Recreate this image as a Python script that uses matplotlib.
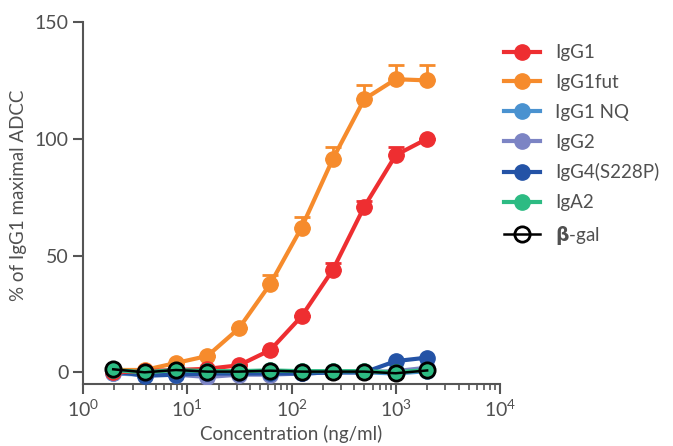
import matplotlib
matplotlib.use("Agg")
import matplotlib.pyplot as plt
import numpy as np

plt.rcParams['font.family'] = ['Lato', 'DejaVu Sans']
plt.rcParams['mathtext.fontset'] = 'custom'
plt.rcParams['mathtext.rm'] = 'Lato'
plt.rcParams['mathtext.bf'] = 'DejaVu Sans:bold'

conc = [1.95, 3.9, 7.8, 15.6, 31.25, 62.5, 125, 250, 500, 1000, 2000]

igg1 = [0.0, 0.5, 1.0, 1.5, 3.0, 9.5, 24.0, 44.0, 71.0, 93.0, 100.0]
igg1_err = [0, 0, 0, 0, 0, 0, 0, 3.0, 2.5, 3.5, 0]
igg1fut = [1.0, 1.0, 4.0, 7.0, 18.8, 37.8, 62.0, 91.5, 117.0, 125.5, 125.0]
igg1fut_err = [0, 0, 0, 0, 0, 4.0, 4.5, 5.0, 6.0, 6.0, 6.5]
igg1nq = [-0.5, -1.0, -0.5, -1.0, -0.5, -0.5, -0.5, 0.0, 0.0, -0.5, 0.5]
igg2 = [-0.5, -0.5, -1.0, -2.0, -1.0, -1.0, -0.5, 0.0, 0.0, 0.5, 2.0]
igg4 = [0.5, -1.5, -1.0, -0.5, -0.5, -0.5, -0.5, 0.0, 0.0, 4.8, 6.3]
iga2 = [1.0, 0.0, 1.0, 0.5, 0.5, 0.8, 0.5, 0.5, 0.5, 0.0, 1.0]
bgal = [1.3, 0.0, 1.0, 0.3, 0.3, 0.7, 0.3, 0.3, 0.3, -0.4, 0.8]

labels = ['IgG1', 'IgG1fut', 'IgG1 NQ', 'IgG2', 'IgG4(S228P)', 'IgA2', r'$\mathbf{\beta}$-gal']
colors = ['#EE2E31', '#F68B2C', '#4A92D0', '#7C84C4', '#2453A6', '#2DBB83', '#000000']
tick_vals = [0, 50, 100, 150]

fig = plt.figure(figsize=(6.73, 4.46), dpi=100)
ax = fig.add_axes([83/673, 1-384/446, (500-83)/673, (384-22)/446])

series = [igg1, igg1fut, igg1nq, igg2, igg4, iga2]
errs = [igg1_err, igg1fut_err, None, None, None, None]
order = [2, 3, 4, 1, 0, 5]
hmap = {}
for i in order:
    y = series[i]
    if errs[i] is not None:
        e = np.array(errs[i])
        ax.errorbar(conc, y, yerr=[np.zeros_like(e), e], fmt='none', ecolor=colors[i],
                    elinewidth=2, capsize=6, capthick=2, zorder=2)
    h, = ax.plot(conc, y, '-o', color=colors[i], lw=3, ms=11, zorder=3,
                 label=labels[i])
    hmap[i] = h
h, = ax.plot(conc, bgal, '-o', color='black', lw=1.8, ms=11, mfc='none', mew=2,
             zorder=4, label=labels[6])
hmap[6] = h

txt = '#505050'
ax.set_xscale('log')
ax.set_xlim(1, 1e4)
ax.set_ylim(-5, 150)
ax.set_yticks(tick_vals)
ax.spines['top'].set_visible(False)
ax.spines['right'].set_visible(False)
for s in ['left', 'bottom']:
    ax.spines[s].set_color('#555555')
    ax.spines[s].set_linewidth(1.5)
ax.tick_params(axis='both', which='major', colors='#555555', labelcolor=txt,
               labelsize=14, width=1.5, length=7)
ax.tick_params(axis='x', which='minor', colors='#555555', width=1.2, length=4)
ax.set_xlabel('Concentration (ng/ml)', fontsize=13.5, color=txt, labelpad=4)
ax.set_ylabel('% of IgG1 maximal ADCC', fontsize=13.5, color=txt)
ax.yaxis.set_label_coords(-0.135, 0.52)

leg = ax.legend([hmap[i] for i in range(7)], labels, loc='upper left',
                bbox_to_anchor=(0.97, 0.985), frameon=False, fontsize=13.5,
                labelcolor=txt, handlelength=1.9, labelspacing=0.68,
                handletextpad=0.8)

fig.savefig('out.png', dpi=100)
